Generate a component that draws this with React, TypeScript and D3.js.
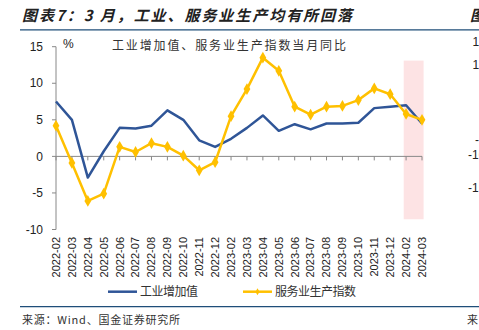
import React from "react";
import * as d3 from "d3";

const categories = [
  "2022-02", "2022-03", "2022-04", "2022-05", "2022-06", "2022-07", "2022-08", "2022-09",
  "2022-10", "2022-11", "2022-12", "2023-02", "2023-03", "2023-04", "2023-05", "2023-06",
  "2023-07", "2023-08", "2023-09", "2023-10", "2023-11", "2023-12", "2024-02", "2024-03",
];
const industry = [7.5, 5.0, -2.9, 0.7, 3.9, 3.8, 4.2, 6.3, 5.0, 2.2, 1.3, 2.4, 3.9, 5.6, 3.5, 4.4, 3.7, 4.5, 4.5, 4.6, 6.6, 6.8, 7.0, 4.5];
const services = [4.2, -0.9, -6.1, -5.1, 1.3, 0.6, 1.8, 1.3, 0.1, -1.9, -0.8, 5.5, 9.2, 13.5, 11.7, 6.8, 5.7, 6.8, 6.9, 7.7, 9.3, 8.5, 5.8, 5.0];
const yTicks = [15, 10, 5, 0, -5, -10];
const shadeRange = [-8.6, 13.1];
const shadeStart = "2024-02";
const seriesNames = ["工业增加值", "服务业生产指数"];
const neighborTicks = [
  { t: "15", y: 42 }, { t: "10", y: 65 }, { t: "-5", y: 140 }, { t: "-10", y: 155 }, { t: "-15", y: 188 },
];

const BLUE = "#2F5597";
const YELLOW = "#FFC000";
const CJK = "'Noto Sans CJK SC', sans-serif";
const SANS = "'Liberation Sans', Arial, sans-serif";

export default function App() {
  const W = 479, H = 330;
  const x = d3.scalePoint<string>().domain(categories).range([56, 422]);
  const y = d3.scaleLinear().domain([-10, 15]).range([229.5, 46.7]);
  const step = x.step();

  const line = d3.line<number>()
    .x((_, i) => x(categories[i])!)
    .y((d) => y(d));

  const diamond = d3.symbol().type(d3.symbolDiamond).size(40)();

  const shadeX0 = x(shadeStart)! - step * 0.15;
  const shadeX1 = x(categories[categories.length - 1])! + step * 0.1;

  return (
    <svg width={W} height={H} style={{ position: "absolute", left: 0, top: 0, background: "#fff" }}>
      {/* Title */}
      <text x={22} y={21} fontFamily={CJK} fontSize={15} fontStyle="italic" fontWeight="bold"
        fill="#222" textLength={330} lengthAdjust="spacing">图表7：3 月，工业、服务业生产均有所回落</text>
      <text x={470} y={21} fontFamily={CJK} fontSize={15} fontStyle="italic" fontWeight="bold" fill="#222">图</text>
      <line x1={20} x2={W} y1={29.8} y2={29.8} stroke="#1F4E79" strokeWidth={1.3} />

      {/* Shaded region */}
      <rect x={shadeX0} width={shadeX1 - shadeX0} y={y(shadeRange[1])}
        height={y(shadeRange[0]) - y(shadeRange[1])} fill="#FDE3E4" />

      {/* Inner title */}
      <text x={112} y={50} fontFamily={CJK} fontSize={12} fill="#333" textLength={234} lengthAdjust="spacing">
        工业增加值、服务业生产指数当月同比
      </text>
      <text x={63} y={48} fontFamily={SANS} fontSize={12} fill="#222">%</text>

      {/* Y axis */}
      <line x1={56} x2={56} y1={y(15)} y2={y(-10)} stroke="#888" strokeWidth={1} />
      {yTicks.map((t) => (
        <g key={t}>
          <line x1={52} x2={56} y1={y(t)} y2={y(t)} stroke="#888" />
          <text x={43} y={y(t)} dy="0.35em" textAnchor="end" fontFamily={SANS} fontSize={12} fill="#222">{t}</text>
        </g>
      ))}

      {/* X axis at 0 */}
      <line x1={56} x2={422} y1={y(0)} y2={y(0)} stroke="#888" strokeWidth={1} />
      {categories.map((c) => (
        <line key={c} x1={x(c)!} x2={x(c)!} y1={y(0)} y2={y(0) + 4} stroke="#888" />
      ))}
      {categories.map((c) => (
        <text key={"l" + c} transform={`translate(${x(c)},237) rotate(-90)`} dy="0.35em"
          textAnchor="end" fontFamily={SANS} fontSize={11} fill="#222">{c}</text>
      ))}

      {/* Lines */}
      <path d={line(industry)!} fill="none" stroke={BLUE} strokeWidth={2.5} strokeLinejoin="round" />
      <path d={line(services)!} fill="none" stroke={YELLOW} strokeWidth={2.5} strokeLinejoin="round" />
      {services.map((v, i) => (
        <path key={i} d={diamond!} transform={`translate(${x(categories[i])},${y(v)})`} fill={YELLOW} />
      ))}

      {/* Legend */}
      <line x1={108} x2={137} y1={291.7} y2={291.7} stroke={BLUE} strokeWidth={2.5} />
      <text x={140} y={296} fontFamily={CJK} fontSize={12} fill="#333" textLength={58} lengthAdjust="spacing">{seriesNames[0]}</text>
      <line x1={243} x2={272} y1={291.7} y2={291.7} stroke={YELLOW} strokeWidth={2.5} />
      <path d={d3.symbol().type(d3.symbolDiamond).size(14)()!} transform="translate(257.5,291.7)" fill={YELLOW} />
      <text x={275} y={296} fontFamily={CJK} fontSize={12} fill="#333" textLength={81} lengthAdjust="spacing">{seriesNames[1]}</text>

      {/* Bottom */}
      <line x1={20} x2={W} y1={306.7} y2={306.7} stroke="#1F4E79" strokeWidth={1.3} />
      <text x={22} y={324} fontFamily={CJK} fontSize={11} fill="#333" textLength={158} lengthAdjust="spacing">来源：Wind、国金证券研究所</text>
      <text x={467} y={324} fontFamily={CJK} fontSize={11} fill="#333">来</text>

      {/* Neighbor chart clipped tick labels */}
      {neighborTicks.map((n) => (
        <text key={n.t} x={n.t.startsWith("-") ? (n.t.length === 3 ? 468 : 475) : 472.5} y={n.y} dy="0.35em"
          fontFamily={SANS} fontSize={12} fill="#222">{n.t}</text>
      ))}
    </svg>
  );
}
